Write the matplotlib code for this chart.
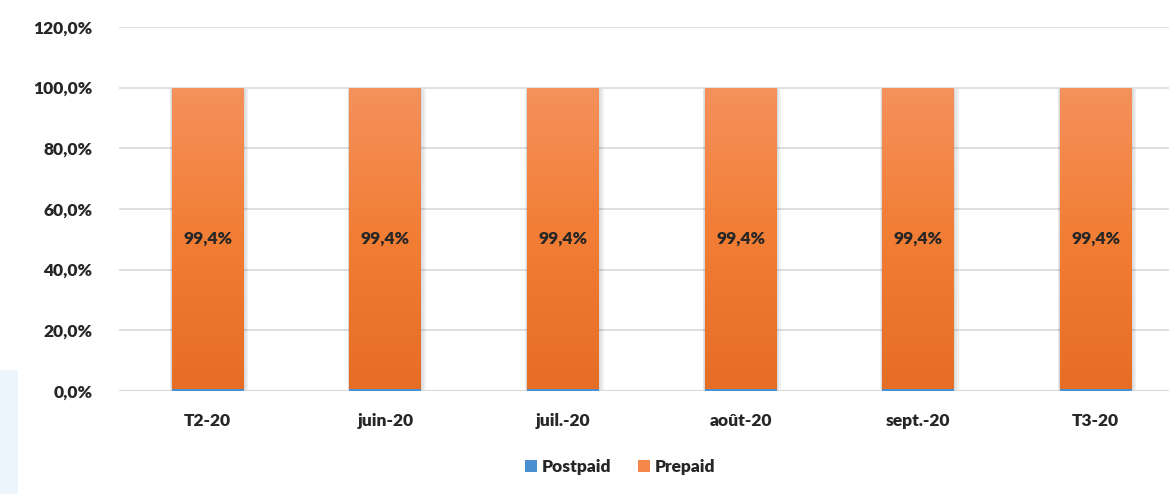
import numpy as np
import matplotlib.pyplot as plt
from matplotlib.patches import Rectangle
from matplotlib.colors import LinearSegmentedColormap

categories = ['T2-20', 'juin-20', 'juil.-20', 'août-20', 'sept.-20', 'T3-20']
postpaid = [0.6, 0.6, 0.6, 0.6, 0.6, 0.6]
prepaid = [99.4, 99.4, 99.4, 99.4, 99.4, 99.4]
yticks = [0, 20, 40, 60, 80, 100, 120]

plt.rcParams['font.family'] = ['Lato', 'DejaVu Sans']
plt.rcParams['font.weight'] = 'heavy'

W, H = 1169, 494
fig = plt.figure(figsize=(W / 100, H / 100), dpi=100)
ax = fig.add_axes([119 / W, (H - 391) / H, (1169 - 119) / W, (391 - 27) / H])

# faint blue strip at the left edge
fig.patches.append(Rectangle((0, 0), 18 / W, 124 / H, transform=fig.transFigure,
                             facecolor='#eef6fd', edgecolor='none', zorder=0))

x = np.arange(len(categories))
width = 0.405
orange_cmap = LinearSegmentedColormap.from_list('og', ['#e66d26', '#f27d34', '#f5915c'])

# soft shadow
for k, a in enumerate([0.05, 0.05, 0.05]):
    ax.bar(x + 0.004 * k, np.array(postpaid) + np.array(prepaid), width + 0.012 * (k + 1),
           bottom=-0.6, color='#000000', alpha=a, zorder=1)
b1 = ax.bar(x, postpaid, width, color='#4a8fd0', label='Postpaid', zorder=2)
b2 = ax.bar(x, prepaid, width, bottom=postpaid, color='#f5874a', label='Prepaid', zorder=2)

grad = np.linspace(0, 1, 256).reshape(-1, 1)
for rect in b2:
    x0, y0 = rect.get_x(), rect.get_y()
    im = ax.imshow(grad, cmap=orange_cmap, origin='lower', aspect='auto',
                   extent=(x0, x0 + rect.get_width(), y0, y0 + rect.get_height()), zorder=3)
    im.set_clip_path(rect)

for i, (p, q) in enumerate(zip(postpaid, prepaid)):
    ax.text(x[i], p + q / 2, f'{q:.1f}%'.replace('.', ','), ha='center', va='center',
            fontsize=12.5, color='#262626', zorder=4)

ax.set_xlim(-0.5, (1169 - 119) / 177.6 - 0.5)
ax.set_ylim(0, 120)
ax.set_yticks(yticks)
ax.set_yticklabels([f'{v:.1f}%'.replace('.', ',') for v in yticks])
ax.set_xticks(x)
ax.set_xticklabels(categories)
ax.tick_params(axis='both', length=0, labelsize=12.5, colors='#262626')
ax.tick_params(axis='y', pad=19)
ax.tick_params(axis='x', pad=16)
ax.yaxis.grid(True, color='#d9d9d9', linewidth=1.2)
ax.set_axisbelow(True)
for s in ax.spines.values():
    s.set_visible(False)
ax.axhline(0, color='#d9d9d9', linewidth=1.5, zorder=1)

fig.legend(handles=[b1, b2], labels=['Postpaid', 'Prepaid'], loc='center',
           bbox_to_anchor=(620 / W, (H - 467) / H), ncol=2, frameon=False,
           fontsize=12.5, handlelength=0.7, handleheight=0.7, handletextpad=0.3,
           columnspacing=1.5, labelcolor='#262626')

fig.savefig('out.png', dpi=100)
